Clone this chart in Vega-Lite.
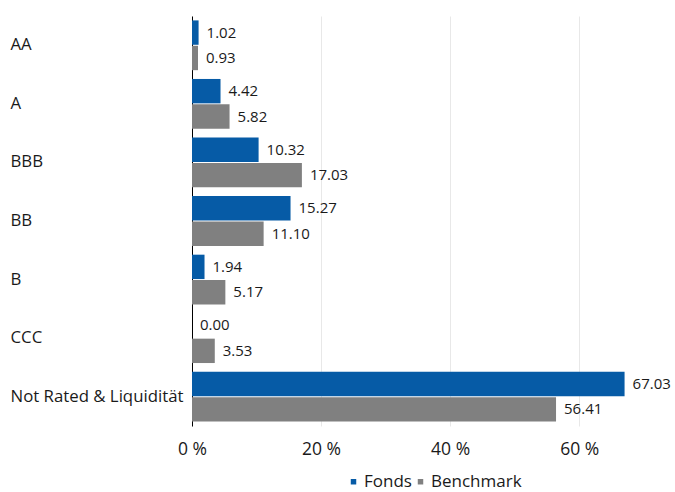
{
  "$schema": "https://vega.github.io/schema/vega-lite/v6.json",
  "autosize": {"type": "none"},
  "width": 484,
  "height": 410,
  "padding": {"left": 192, "top": 16, "right": 0, "bottom": 66},
  "background": "white",
  "config": {
    "font": "Open Sans",
    "view": {"stroke": null}
  },
  "data": {
    "values": [
      {"rating": "AA", "series": "Fonds", "value": 1.02},
      {"rating": "AA", "series": "Benchmark", "value": 0.93},
      {"rating": "A", "series": "Fonds", "value": 4.42},
      {"rating": "A", "series": "Benchmark", "value": 5.82},
      {"rating": "BBB", "series": "Fonds", "value": 10.32},
      {"rating": "BBB", "series": "Benchmark", "value": 17.03},
      {"rating": "BB", "series": "Fonds", "value": 15.27},
      {"rating": "BB", "series": "Benchmark", "value": 11.10},
      {"rating": "B", "series": "Fonds", "value": 1.94},
      {"rating": "B", "series": "Benchmark", "value": 5.17},
      {"rating": "CCC", "series": "Fonds", "value": 0.00},
      {"rating": "CCC", "series": "Benchmark", "value": 3.53},
      {"rating": "Not Rated & Liquidität", "series": "Fonds", "value": 67.03},
      {"rating": "Not Rated & Liquidität", "series": "Benchmark", "value": 56.41}
    ]
  },
  "encoding": {
    "y": {
      "field": "rating",
      "type": "nominal",
      "sort": null,
      "scale": {"paddingInner": 0.15, "paddingOuter": 0.075},
      "axis": {
        "title": null,
        "ticks": false,
        "labelAlign": "left",
        "labelPadding": 182,
        "labelFontSize": 16.8,
        "labelColor": "#1a1a1a",
        "domainColor": "#000000",
        "domainWidth": 1
      }
    },
    "yOffset": {
      "field": "series",
      "type": "nominal",
      "sort": ["Fonds", "Benchmark"],
      "scale": {"paddingInner": 0.04}
    },
    "x": {
      "field": "value",
      "type": "quantitative",
      "scale": {"domain": [0, 75], "nice": false},
      "axis": {
        "title": null,
        "values": [0, 20, 40, 60],
        "labelExpr": "datum.value + ' %'",
        "domain": false,
        "ticks": false,
        "labelPadding": 14,
        "labelFontSize": 17.5,
        "labelColor": "#1a1a1a",
        "gridColor": "#e8e8e8",
        "labelFlush": false
      }
    }
  },
  "layer": [
    {
      "mark": {"type": "bar"},
      "encoding": {
        "color": {
          "field": "series",
          "type": "nominal",
          "sort": ["Fonds", "Benchmark"],
          "scale": {"domain": ["Fonds", "Benchmark"], "range": ["#065ba6", "#808080"]},
          "legend": {
            "title": null,
            "orient": "none",
            "direction": "horizontal",
            "legendX": 153,
            "legendY": 457,
            "symbolType": "square",
            "symbolSize": 30,
            "labelFontSize": 17,
            "labelColor": "#1a1a1a",
            "labelOffset": 2,
            "columnPadding": 0
          }
        }
      }
    },
    {
      "mark": {"type": "text", "align": "left", "baseline": "middle", "dx": 8, "fontSize": 15, "color": "#1a1a1a"},
      "encoding": {
        "text": {"field": "value", "type": "quantitative", "format": ".2f"}
      }
    }
  ]
}
